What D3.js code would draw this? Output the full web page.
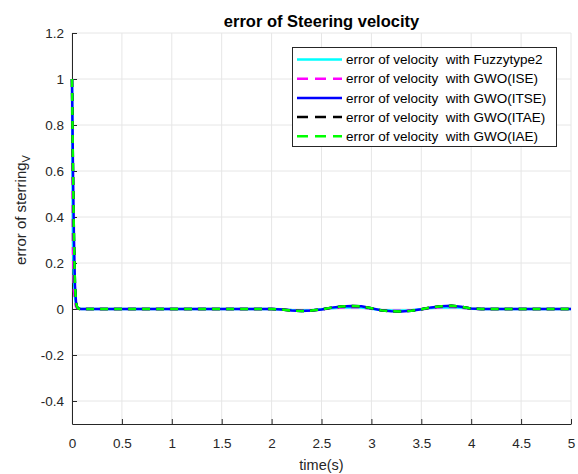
<!DOCTYPE html>
<html><head><meta charset="utf-8">
<script src="https://cdn.jsdelivr.net/npm/d3@7"></script>
<style>
body{margin:0;background:#fff;}
svg{font-family:"Liberation Sans",Arial,sans-serif;}
text{white-space:pre;}
</style></head>
<body><svg id="c" width="578" height="474"></svg>
<script>
const time = [0,0.005,0.01,0.02,0.03,0.04,0.05,0.06,0.08,0.1,0.5,1,1.5,2.0,2.1,2.2,2.3,2.4,2.5,2.6,2.7,2.8,2.9,3.0,3.1,3.2,3.3,3.4,3.5,3.6,3.7,3.8,3.9,4.0,4.1,4.5,5];
const fuzzy = [1,0.55,0.3,0.12,0.05,0.02,0.008,0.003,0.001,0,0,0,0,0,-0.001,-0.004,-0.006,-0.005,-0.001,0.003,0.006,0.007,0.006,0.001,-0.004,-0.007,-0.007,-0.005,-0.001,0.004,0.007,0.008,0.005,0.001,0,0,0];
const ise = [1,0.5,0.25,0.08,0.03,0.01,0.004,0.001,0,0,0,0,0,0,-0.001,-0.005,-0.007,-0.006,-0.002,0.003,0.007,0.008,0.007,0.001,-0.005,-0.008,-0.008,-0.006,-0.001,0.004,0.008,0.009,0.006,0.001,0,0,0];
const itse = [1,0.8,0.6,0.3,0.1,0.03,0.01,0.003,0,0,0,0,0,0,-0.002,-0.007,-0.009,-0.007,-0.002,0.006,0.011,0.013,0.012,0.003,-0.006,-0.010,-0.011,-0.008,-0.001,0.007,0.012,0.014,0.010,0.002,0,0,0];
const itae = [1,0.8,0.6,0.3,0.1,0.03,0.01,0.003,0,0,0,0,0,0,-0.002,-0.007,-0.009,-0.007,-0.002,0.006,0.011,0.013,0.012,0.003,-0.006,-0.010,-0.011,-0.008,-0.001,0.007,0.012,0.014,0.010,0.002,0,0,0];
const iae = [1,0.8,0.6,0.3,0.1,0.03,0.01,0.003,0,0,0,0,0,0,-0.002,-0.007,-0.009,-0.007,-0.002,0.006,0.011,0.013,0.012,0.003,-0.006,-0.010,-0.011,-0.008,-0.001,0.007,0.012,0.014,0.010,0.002,0,0,0];
const seriesNames = ["error of velocity  with Fuzzytype2","error of velocity  with GWO(ISE)","error of velocity  with GWO(ITSE)","error of velocity  with GWO(ITAE)","error of velocity  with GWO(IAE)"];
const seriesColors = ["#00ffff","#ff00ff","#0000ff","#000000","#00ff00"];
const seriesDash = [null,"8,6",null,"8,6","8,6"];
const seriesData = [fuzzy, ise, itse, itae, iae];
const xTicks = [0,0.5,1,1.5,2,2.5,3,3.5,4,4.5,5];
const yTicks = [-0.4,-0.2,0,0.2,0.4,0.6,0.8,1,1.2];
const yTickLabels = ["-0.4","-0.2","0","0.2","0.4","0.6","0.8","1","1.2"];
const xTickLabels = ["0","0.5","1","1.5","2","2.5","3","3.5","4","4.5","5"];

const svg = d3.select("#c");
const x = d3.scaleLinear().domain([0,5]).range([72,571]);
const y = d3.scaleLinear().domain([-0.5,1.2]).range([424,33]);
const axisCol = "#262626";

// grid
const g = svg.append("g");
g.selectAll(".gx").data(xTicks).join("line").attr("x1",d=>x(d)).attr("x2",d=>x(d)).attr("y1",y(-0.5)).attr("y2",y(1.2)).attr("stroke","#e6e6e6").attr("stroke-width",1);
g.selectAll(".gy").data(yTicks).join("line").attr("y1",d=>y(d)).attr("y2",d=>y(d)).attr("x1",x(0)).attr("x2",x(5)).attr("stroke","#e6e6e6").attr("stroke-width",1);

// axes
const xa = svg.append("g").attr("transform",`translate(0,${y(-0.5)})`)
  .call(d3.axisBottom(x).tickValues(xTicks).tickSizeInner(-5).tickSizeOuter(0).tickPadding(14).tickFormat((d,i)=>xTickLabels[i]));
const ya = svg.append("g").attr("transform",`translate(${x(0)},0)`)
  .call(d3.axisLeft(y).tickValues(yTicks).tickSizeInner(-5).tickSizeOuter(0).tickPadding(8).tickFormat((d,i)=>yTickLabels[i]));
[xa,ya].forEach(a=>{
  a.select(".domain").attr("stroke",axisCol).attr("stroke-width",1);
  a.selectAll(".tick line").attr("stroke",axisCol);
  a.selectAll(".tick text").attr("fill",axisCol).attr("font-size",13.5).attr("font-family","Liberation Sans, Arial, sans-serif");
});

// lines
const line = d3.line().x((d,i)=>x(time[i])).y(d=>y(d));
const lg = svg.append("g");
seriesData.forEach((s,k)=>{
  lg.append("path").attr("d",line(s)).attr("fill","none").attr("stroke",seriesColors[k]).attr("stroke-width",2.5)
    .attr("stroke-dasharray",seriesDash[k]).attr("stroke-linejoin","round");
});

// title and labels
svg.append("text").attr("x",(x(0)+x(5))/2).attr("y",27).attr("text-anchor","middle").attr("font-weight","bold").attr("font-size",16.5).attr("fill","#000").text("error of Steering velocity");
svg.append("text").attr("x",(x(0)+x(5))/2).attr("y",470).attr("text-anchor","middle").attr("font-size",14.5).attr("fill",axisCol).text("time(s)");
const yl = svg.append("text").attr("transform","translate(26,210) rotate(-90)").attr("text-anchor","middle").attr("font-size",15).attr("fill",axisCol);
yl.append("tspan").text("error of sterring");
yl.append("tspan").attr("dy",4).attr("font-size",11).text("V");

// legend
const L = svg.append("g");
L.append("rect").attr("x",292.5).attr("y",47.5).attr("width",264).attr("height",99).attr("fill","#fff").attr("stroke","#262626").attr("stroke-width",1);
seriesNames.forEach((n,k)=>{
  const yy = 59.5 + k*19.2;
  L.append("line").attr("x1",297).attr("x2",342).attr("y1",yy).attr("y2",yy).attr("stroke",seriesColors[k]).attr("stroke-width",2.5).attr("stroke-dasharray",seriesDash[k]?"11,7":null);
  L.append("text").attr("x",346).attr("y",yy).attr("dy","0.35em").attr("font-size",13.5).attr("fill","#000").text(n);
});
</script></body></html>
